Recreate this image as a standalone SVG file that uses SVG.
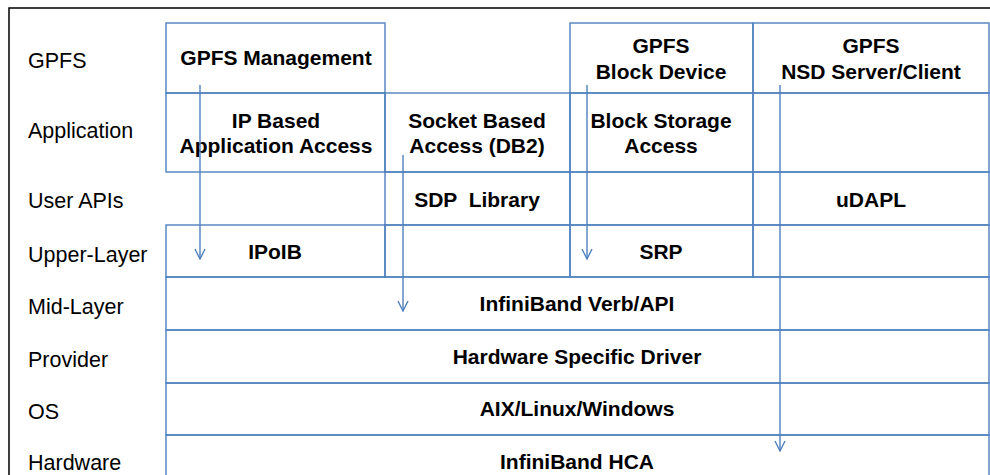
<svg xmlns="http://www.w3.org/2000/svg" width="990" height="475" viewBox="0 0 990 475">
<style>
.frame{fill:none;stroke:#000;stroke-width:1.5}
.box{fill:none;stroke:#4F81BD;stroke-width:1.4}
.lab{font-family:"Liberation Sans",Arial,sans-serif;font-size:21.5px;fill:#000}
.t{font-family:"Liberation Sans",Arial,sans-serif;font-size:21px;font-weight:bold;fill:#000;text-anchor:middle;white-space:pre}
.conn{stroke:#4F81BD;stroke-width:1.4;fill:none;marker-end:url(#arr)}
</style>
<defs>
<marker id="arr" markerUnits="userSpaceOnUse" viewBox="0 0 12 12" refX="11" refY="6" markerWidth="12" markerHeight="12" orient="auto">
<path d="M1,1 L11,6 L1,11" fill="none" stroke="#4F81BD" stroke-width="1.4"/>
</marker>
</defs>
<rect width="990" height="475" fill="#fff"/>
<rect class="frame" x="9" y="8" width="1000" height="500"/>
<g id="layer-labels">
<text class="lab" x="28" y="68">GPFS</text>
<text class="lab" x="28" y="138">Application</text>
<text class="lab" x="28" y="208">User APIs</text>
<text class="lab" x="28" y="262">Upper-Layer</text>
<text class="lab" x="28" y="314">Mid-Layer</text>
<text class="lab" x="28" y="367">Provider</text>
<text class="lab" x="28" y="419">OS</text>
<text class="lab" x="28" y="470">Hardware</text>
</g>
<g id="grid">
<rect class="box" x="753" y="93" width="236" height="79"/>
<rect class="box" x="570" y="172" width="183" height="53"/>
<rect class="box" x="385" y="225" width="185" height="52"/>
<rect class="box" x="753" y="225" width="236" height="52"/>
</g>
<g id="gpfs-management"><rect class="box" x="166" y="23" width="219" height="70"/><text class="t" x="276" y="65">GPFS Management</text></g>
<g id="gpfs-block-device"><rect class="box" x="570" y="23" width="183" height="70"/><text class="t" x="661" y="53">GPFS</text><text class="t" x="661" y="79">Block Device</text></g>
<g id="gpfs-nsd"><rect class="box" x="753" y="23" width="236" height="70"/><text class="t" x="871" y="53">GPFS</text><text class="t" x="871" y="79">NSD Server/Client</text></g>
<g id="ip-based"><rect class="box" x="166" y="93" width="219" height="79"/><text class="t" x="276" y="128">IP Based</text><text class="t" x="276" y="153">Application Access</text></g>
<g id="socket-based"><rect class="box" x="385" y="93" width="185" height="79"/><text class="t" x="477" y="128">Socket Based</text><text class="t" x="477" y="153">Access (DB2)</text></g>
<g id="block-storage"><rect class="box" x="570" y="93" width="183" height="79"/><text class="t" x="661" y="128">Block Storage</text><text class="t" x="661" y="153">Access</text></g>
<g id="sdp-library"><rect class="box" x="385" y="172" width="185" height="53"/><text class="t" x="477" y="207" xml:space="preserve">SDP  Library</text></g>
<g id="udapl"><rect class="box" x="753" y="172" width="236" height="53"/><text class="t" x="871" y="207">uDAPL</text></g>
<g id="ipoib"><rect class="box" x="166" y="225" width="219" height="52"/><text class="t" x="275" y="259">IPoIB</text></g>
<g id="srp"><rect class="box" x="570" y="225" width="183" height="52"/><text class="t" x="661" y="259">SRP</text></g>
<g id="verb-api"><rect class="box" x="166" y="277" width="823" height="53"/><text class="t" x="577" y="311">InfiniBand Verb/API</text></g>
<g id="hw-driver"><rect class="box" x="166" y="330" width="823" height="53"/><text class="t" x="577" y="364">Hardware Specific Driver</text></g>
<g id="os"><rect class="box" x="166" y="383" width="823" height="52"/><text class="t" x="577" y="416">AIX/Linux/Windows</text></g>
<g id="hca"><rect class="box" x="166" y="435" width="823" height="60"/><text class="t" x="577" y="469">InfiniBand HCA</text></g>
<g id="connectors">
<line class="conn" x1="200" y1="85" x2="200" y2="259"/>
<line class="conn" x1="403" y1="155" x2="403" y2="311"/>
<line class="conn" x1="587" y1="85" x2="587" y2="259"/>
<line class="conn" x1="780" y1="85" x2="780" y2="451"/>
</g>
</svg>
